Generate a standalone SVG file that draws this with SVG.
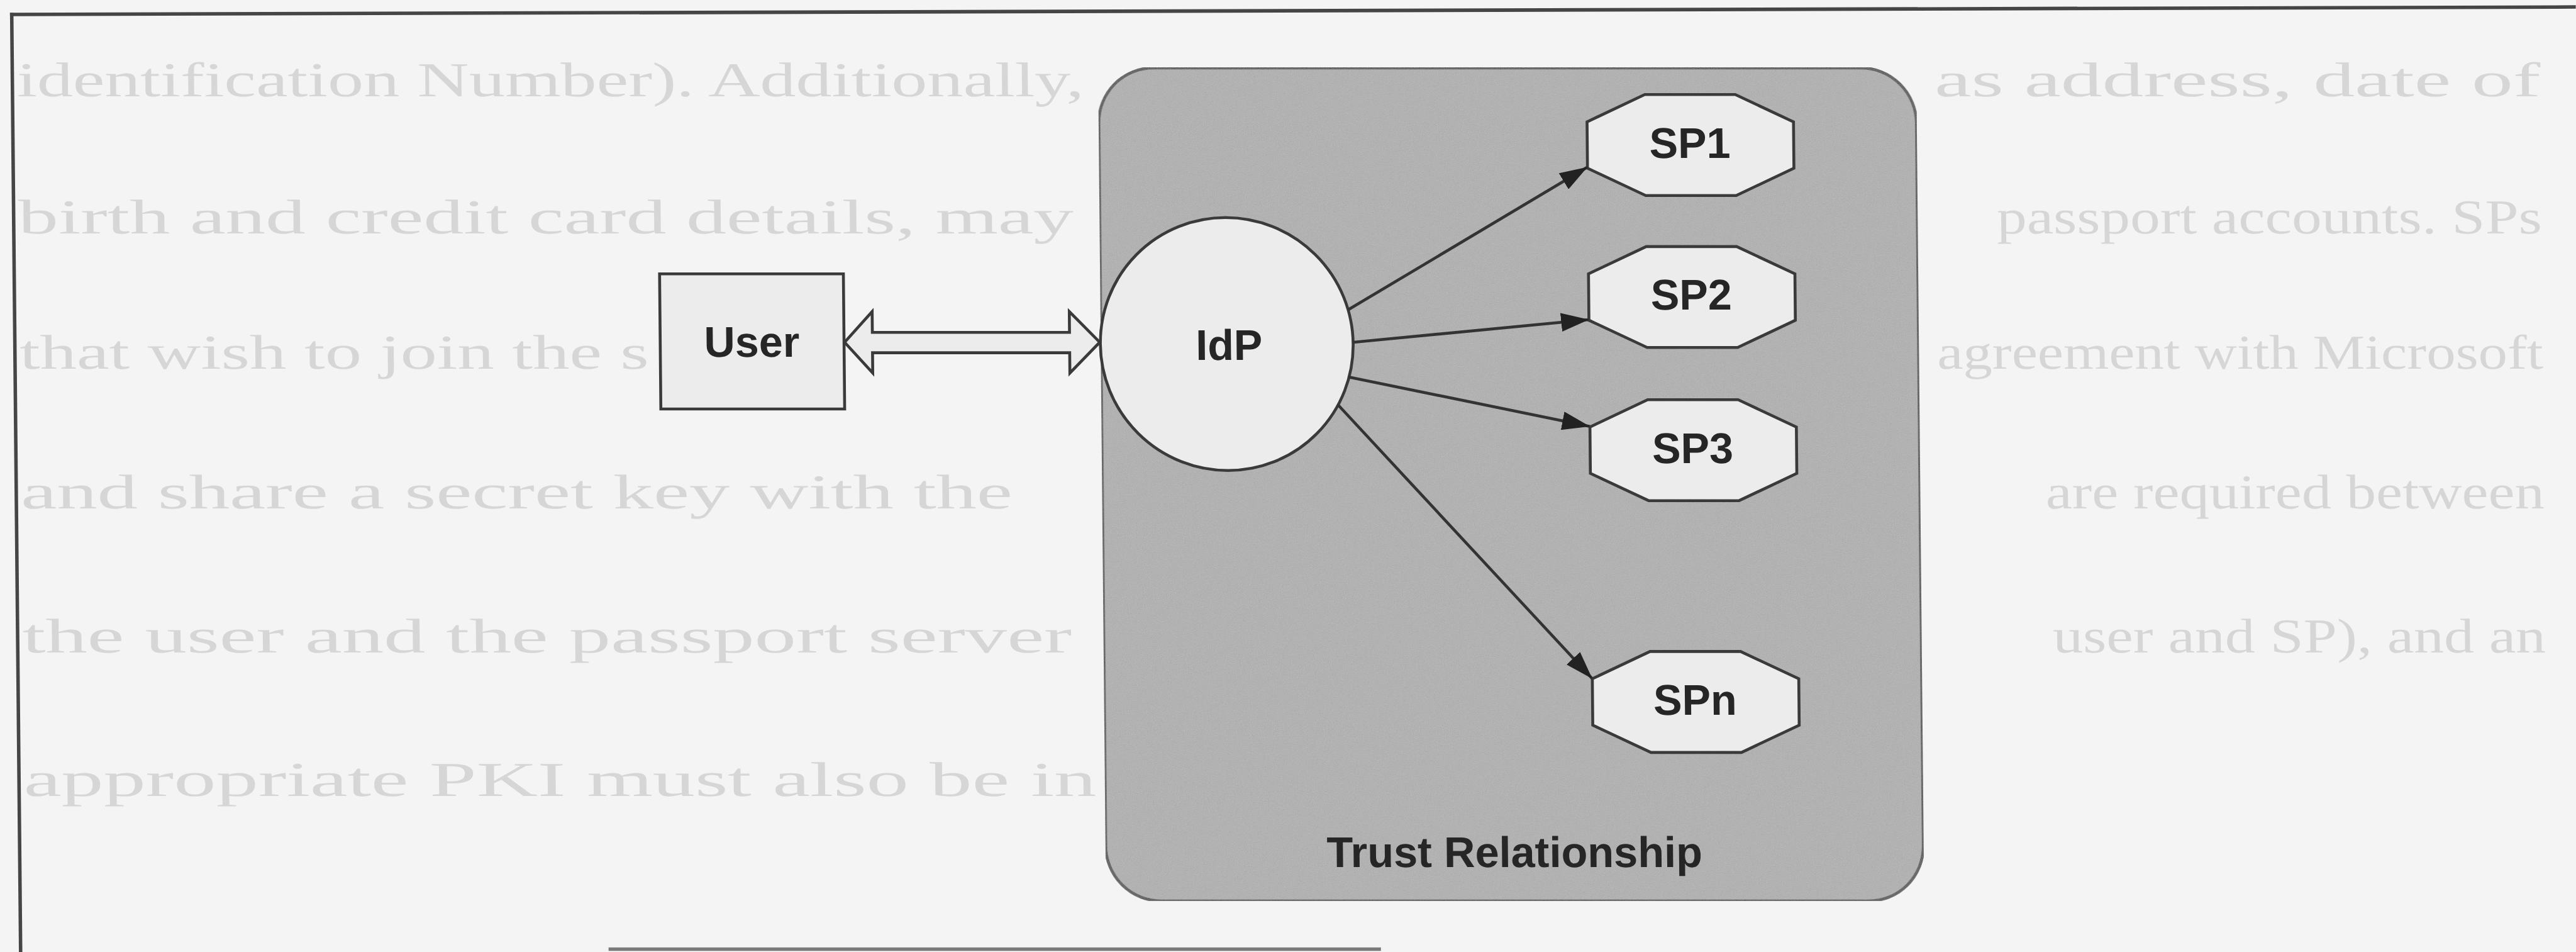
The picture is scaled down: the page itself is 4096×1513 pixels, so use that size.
<svg xmlns="http://www.w3.org/2000/svg" xmlns:xlink="http://www.w3.org/1999/xlink" width="4096" height="1513" viewBox="0 0 4096 1513">
  <style>
    .frame { stroke: #454545; stroke-width: 6; fill: none; }
    .ghost { font-family: "Liberation Serif", "Times New Roman", serif; font-size: 84px; fill: #d6d6d6; }
    .shape { fill: #ececec; stroke: #3a3a3a; stroke-width: 5; }
    .lbl { font-family: "Liberation Sans", Arial, sans-serif; font-weight: bold; font-size: 74px; fill: #262626; text-anchor: middle; }
    .edge { stroke: #333333; stroke-width: 5; fill: none; marker-end: url(#head); }
  </style>
  <defs>
    <marker id="head" markerUnits="userSpaceOnUse" markerWidth="48" markerHeight="32" refX="48" refY="16" orient="auto">
      <path d="M0,0 L48,16 L0,32 z" fill="#222222"/>
    </marker>
    <!-- octagon used by the service-provider nodes -->
    <polygon id="oct" points="100,0 256,0 356,47 356,127 256,174 100,174 0,127 0,47"/>
    <filter id="grain" x="0" y="0" width="100%" height="100%">
      <feTurbulence type="fractalNoise" baseFrequency="0.85" numOctaves="2" seed="7" result="t"/>
      <feColorMatrix in="t" type="saturate" values="0" result="g"/>
      <feComponentTransfer in="g" result="g2">
        <feFuncA type="linear" slope="0" intercept="0.22"/>
      </feComponentTransfer>
      <feComposite in="g2" in2="SourceGraphic" operator="in" result="m"/>
      <feMerge>
        <feMergeNode in="SourceGraphic"/>
        <feMergeNode in="m"/>
      </feMerge>
    </filter>
  </defs>

  <rect width="4096" height="1513" fill="#f4f4f4"/>

  <g transform="scale(0.922) skewX(0.544)">
    <!-- page frame -->
    <g id="frame">
      <line class="frame" x1="17" y1="25" x2="4442" y2="12"/>
      <line class="frame" x1="20" y1="22" x2="20" y2="1641"/>
      <line x1="1034" y1="1636" x2="2366" y2="1636" stroke="#7a7a7a" stroke-width="6"/>
    </g>

    <!-- faint print from the facing page -->
    <g id="backprint" class="ghost">
      <text x="28" y="166" textLength="1840" lengthAdjust="spacingAndGlyphs">identification Number). Additionally,</text>
      <text x="3335" y="166" textLength="1045" lengthAdjust="spacingAndGlyphs">as address, date of</text>
      <text x="28" y="402" textLength="1820" lengthAdjust="spacingAndGlyphs">birth and credit card details, may</text>
      <text x="3440" y="402" textLength="940" lengthAdjust="spacingAndGlyphs">passport accounts. SPs</text>
      <text x="28" y="636" textLength="1085" lengthAdjust="spacingAndGlyphs">that wish to join the s</text>
      <text x="3335" y="636" textLength="1045" lengthAdjust="spacingAndGlyphs">agreement with Microsoft</text>
      <text x="28" y="876" textLength="1710" lengthAdjust="spacingAndGlyphs">and share a secret key with the</text>
      <text x="3520" y="876" textLength="860" lengthAdjust="spacingAndGlyphs">are required between</text>
      <text x="28" y="1125" textLength="1810" lengthAdjust="spacingAndGlyphs">the user and the passport server</text>
      <text x="3530" y="1125" textLength="850" lengthAdjust="spacingAndGlyphs">user and SP), and an</text>
      <text x="28" y="1372" textLength="1850" lengthAdjust="spacingAndGlyphs">appropriate PKI must also be in</text>
    </g>

    <!-- trust relationship container -->
    <g id="trust">
      <rect x="1893" y="117" width="1410" height="1436" rx="95" ry="95" fill="#afafaf" stroke="#3a3a3a" stroke-width="5" filter="url(#grain)"/>
      <text class="lbl" x="2598" y="1495" textLength="648" lengthAdjust="spacingAndGlyphs">Trust Relationship</text>
    </g>

    <g id="user">
      <rect class="shape" x="1133" y="472" width="317" height="233"/>
      <text class="lbl" x="1291" y="615">User</text>
    </g>

    <g id="idp">
      <circle class="shape" cx="2110" cy="593" r="218"/>
      <text class="lbl" x="2114" y="620">IdP</text>
    </g>

    <g id="sp1">
      <use xlink:href="#oct" class="shape" x="2735" y="163"/>
      <text class="lbl" x="2912" y="272">SP1</text>
    </g>
    <g id="sp2">
      <use xlink:href="#oct" class="shape" x="2735" y="425"/>
      <text class="lbl" x="2912" y="534">SP2</text>
    </g>
    <g id="sp3">
      <use xlink:href="#oct" class="shape" x="2735" y="689"/>
      <text class="lbl" x="2912" y="798">SP3</text>
    </g>
    <g id="spn">
      <use xlink:href="#oct" class="shape" x="2735" y="1123"/>
      <text class="lbl" x="2912" y="1232">SPn</text>
    </g>

    <!-- connectors -->
    <g id="connectors">
      <polygon class="shape" stroke-width="4" points="1451,590 1499,537 1499,573 1839,573 1839,537 1891,590 1839,643 1839,608 1499,608 1499,643"/>
      <path class="edge" d="M2320,534 L2735,288"/>
      <path class="edge" d="M2328,590 L2735,551"/>
      <path class="edge" d="M2320,650 L2735,735"/>
      <path class="edge" d="M2301,698 L2735,1170"/>
    </g>
  </g>
</svg>
